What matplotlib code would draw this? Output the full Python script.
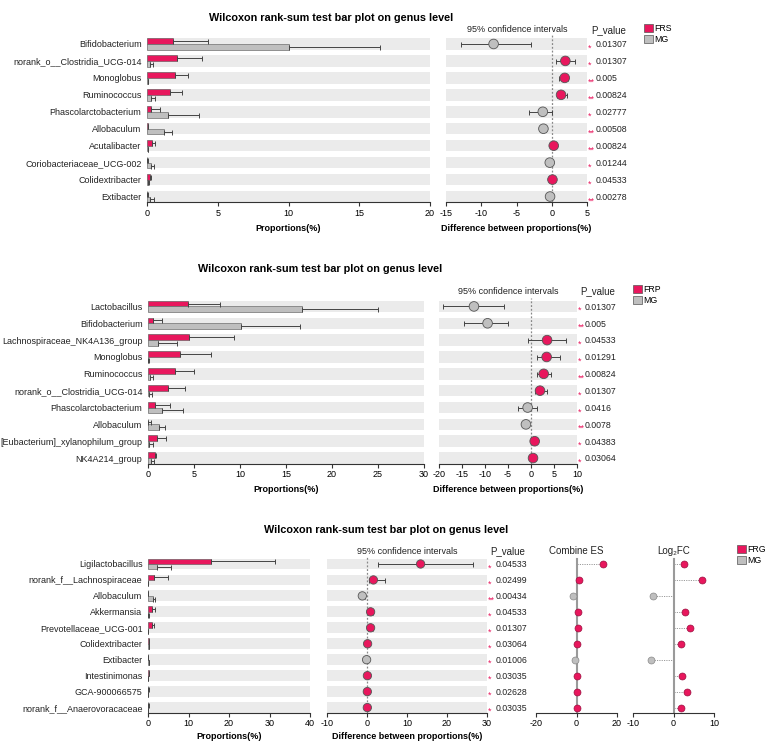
import matplotlib
matplotlib.use('Agg')
import matplotlib.pyplot as plt
from matplotlib.patches import Patch, Rectangle
import matplotlib.transforms as mtrans
import numpy as np

plt.rcParams['font.family'] = ['Liberation Sans', 'DejaVu Sans']

W, H = 767, 745
RED = '#E8175D'
GRAY = '#BFBFBF'
BAND = '#EBEBEB'
TITLE = 'Wilcoxon rank-sum test bar plot on genus level'

# ---------------- Panel 1: FRS vs MG ----------------
p1_cats = ['Bifidobacterium', 'norank_o__Clostridia_UCG-014', 'Monoglobus', 'Ruminococcus',
           'Phascolarctobacterium', 'Allobaculum', 'Acutalibacter', 'Coriobacteriaceae_UCG-002',
           'Colidextribacter', 'Extibacter']
p1_g1_mean = [1.85, 2.15, 1.95, 1.6, 0.3, 0.05, 0.35, 0.03, 0.2, 0.02]
p1_g1_sd = [2.45, 1.75, 0.95, 0.9, 0.6, 0.05, 0.2, 0.03, 0.1, 0.02]
p1_g2_mean = [10.0, 0.2, 0.05, 0.25, 1.5, 1.2, 0.05, 0.3, 0.1, 0.2]
p1_g2_sd = [6.5, 0.25, 0.05, 0.35, 2.2, 0.6, 0.05, 0.2, 0.05, 0.3]
p1_diff = [-8.25, 1.93, 1.84, 1.32, -1.27, -1.18, 0.28, -0.28, 0.1, -0.24]
p1_low = [-12.9, 0.66, 1.04, 0.75, -3.2, -1.5, 0.15, -0.45, 0.0, -0.5]
p1_high = [-2.9, 3.3, 2.36, 2.1, 0.1, -0.8, 0.45, -0.1, 0.2, 0.0]
p1_p = ['0.01307', '0.01307', '0.005', '0.00824', '0.02777', '0.00508', '0.00824', '0.01244', '0.04533', '0.00278']
p1_star = ['*', '*', '**', '**', '*', '**', '**', '*', '*', '**']
p1_groups = ['FRS', 'MG']
p1_bar_ticks = [0, 5, 10, 15, 20]
p1_diff_ticks = [-15, -10, -5, 0, 5]

# ---------------- Panel 2: FRP vs MG ----------------
p2_cats = ['Lactobacillus', 'Bifidobacterium', 'Lachnospiraceae_NK4A136_group', 'Monoglobus',
           'Ruminococcus', 'norank_o__Clostridia_UCG-014', 'Phascolarctobacterium', 'Allobaculum',
           '[Eubacterium]_xylanophilum_group', 'NK4A214_group']
p2_g1_mean = [4.4, 0.55, 4.5, 3.45, 2.97, 2.17, 0.72, 0.05, 0.98, 0.72]
p2_g1_sd = [3.4, 0.95, 4.9, 3.45, 2.03, 1.83, 1.68, 0.25, 0.97, 0.18]
p2_g2_mean = [16.7, 10.06, 1.05, 0.05, 0.25, 0.15, 1.52, 1.16, 0.1, 0.35]
p2_g2_sd = [8.3, 6.44, 2.15, 0.05, 0.3, 0.25, 2.24, 0.69, 0.4, 0.25]
p2_diff = [-12.4, -9.44, 3.5, 3.4, 2.76, 1.96, -0.73, -1.1, 0.8, 0.44]
p2_low = [-19.2, -14.6, -0.7, 1.2, 1.3, 0.8, -2.9, -1.6, 0.3, 0.2]
p2_high = [-5.8, -5.0, 7.7, 6.3, 4.4, 3.4, 1.3, -0.6, 1.3, 0.7]
p2_p = ['0.01307', '0.005', '0.04533', '0.01291', '0.00824', '0.01307', '0.0416', '0.0078', '0.04383', '0.03064']
p2_star = ['*', '**', '*', '*', '**', '*', '*', '**', '*', '*']
p2_groups = ['FRP', 'MG']
p2_bar_ticks = [0, 5, 10, 15, 20, 25, 30]
p2_diff_ticks = [-20, -15, -10, -5, 0, 5, 10]

# ---------------- Panel 3: FRG vs MG ----------------
p3_cats = ['Ligilactobacillus', 'norank_f__Lachnospiraceae', 'Allobaculum', 'Akkermansia',
           'Prevotellaceae_UCG-001', 'Colidextribacter', 'Extibacter', 'Intestinimonas',
           'GCA-900066575', 'norank_f__Anaerovoracaceae']
p3_g1_mean = [15.6, 1.6, 0.05, 1.0, 0.9, 0.25, 0.05, 0.15, 0.1, 0.1]
p3_g1_sd = [15.7, 3.3, 0.05, 0.8, 0.7, 0.1, 0.05, 0.05, 0.05, 0.05]
p3_g2_mean = [2.2, 0.05, 1.15, 0.1, 0.05, 0.15, 0.2, 0.05, 0.02, 0.02]
p3_g2_sd = [3.5, 0.05, 0.65, 0.05, 0.05, 0.05, 0.15, 0.05, 0.02, 0.02]
p3_diff = [13.4, 1.6, -1.17, 0.9, 0.9, 0.15, -0.1, 0.1, 0.08, 0.08]
p3_low = [2.75, 0.4, -1.7, 0.3, 0.3, 0.05, -0.25, 0.05, 0.03, 0.03]
p3_high = [26.5, 4.4, -0.6, 1.5, 1.5, 0.25, 0.05, 0.15, 0.13, 0.13]
p3_p = ['0.04533', '0.02499', '0.00434', '0.04533', '0.01307', '0.03064', '0.01006', '0.03035', '0.02628', '0.03035']
p3_star = ['*', '*', '**', '*', '*', '*', '*', '*', '*', '*']
p3_groups = ['FRG', 'MG']
p3_bar_ticks = [0, 10, 20, 30, 40]
p3_diff_ticks = [-10, 0, 10, 20, 30]
p3_es = [13.1, 1.4, -1.5, 0.6, 0.7, 0.0, -0.5, 0.0, 0.0, 0.0]
p3_log2fc = [2.7, 7.0, -5.0, 2.75, 4.15, 1.8, -5.5, 2.2, 3.25, 1.9]
p3_es_ticks = [-20, 0, 20]
p3_fc_ticks = [-10, 0, 10]

fig = plt.figure(figsize=(W / 100, H / 100), dpi=100)


def rect(x0, y0, x1, y1):
    return [x0 / W, 1 - y1 / H, (x1 - x0) / W, (y1 - y0) / H]


def fx(x):
    return x / W


def fy(y):
    return 1 - y / H


BH = 0.68  # band height in row units


def style_axis(ax, ticks, fs=6.5):
    for s in ['top', 'right', 'left']:
        ax.spines[s].set_visible(False)
    ax.spines['bottom'].set_color('#333333')
    ax.spines['bottom'].set_linewidth(0.8)
    ax.spines['bottom'].set_bounds(ticks[0], ticks[-1])
    ax.set_xticks(ticks)
    ax.set_xticklabels([str(t) for t in ticks])
    ax.tick_params(axis='x', length=3, width=0.8, color='#333333', labelsize=fs, pad=1.5)
    ax.tick_params(axis='y', length=0)
    ax.set_facecolor('none')


def panel(cats, g1m, g1s, g2m, g2s, diff, low, high, pvals, stars, groups,
          bar_ticks, diff_ticks, top, bot, bx0, bx1, dx0, dx1, star_x, pv_x,
          title_xy, ci_xy, ph_xy, leg_xy, circ, labfs=6.5, lpad=5):
    n = len(cats)
    ylim = (n - 1 + BH / 2, -0.5)
    pos = np.arange(n)
    # bar axes
    axb = fig.add_axes(rect(bx0, top, bx1, bot))
    xmax = bar_ticks[-1]
    axb.set_xlim(0, xmax)
    axb.set_ylim(*ylim)
    for i in pos:
        axb.add_patch(Rectangle((0, i - BH / 2), xmax, BH, color=BAND, lw=0, zorder=0))
    axb.barh(pos - BH / 4, g1m, height=BH / 2, color=RED, edgecolor='#555555', lw=0.4, zorder=2)
    axb.barh(pos + BH / 4, g2m, height=BH / 2, color=GRAY, edgecolor='#555555', lw=0.4, zorder=2)
    axb.errorbar(g1m, pos - BH / 4, xerr=[np.zeros(n), g1s], fmt='none', ecolor='#444444',
                 elinewidth=0.7, capsize=1.8, capthick=0.7, zorder=3)
    axb.errorbar(g2m, pos + BH / 4, xerr=[np.zeros(n), g2s], fmt='none', ecolor='#444444',
                 elinewidth=0.7, capsize=1.8, capthick=0.7, zorder=3)
    style_axis(axb, bar_ticks)
    axb.set_yticks(pos)
    axb.set_yticklabels(cats, fontsize=labfs, color='#222222')
    axb.tick_params(axis='y', pad=4)
    axb.set_xlabel('Proportions(%)', fontsize=6.5, fontweight='bold', labelpad=lpad)

    # diff axes
    axd = fig.add_axes(rect(dx0, top, dx1, bot))
    axd.set_xlim(diff_ticks[0], diff_ticks[-1])
    axd.set_ylim(*ylim)
    for i in pos:
        axd.add_patch(Rectangle((diff_ticks[0], i - BH / 2), diff_ticks[-1] - diff_ticks[0], BH,
                                color=BAND, lw=0, zorder=0))
    axd.axvline(0, color='#888888', ls=(0, (1.5, 1.5)), lw=0.9, zorder=1)
    d = np.array(diff)
    axd.errorbar(d, pos, xerr=[d - np.array(low), np.array(high) - d], fmt='none',
                 ecolor='#444444', elinewidth=0.7, capsize=1.8, capthick=0.7, zorder=2)
    cols = [RED if v > 0 else GRAY for v in diff]
    axd.scatter(d, pos, s=circ, c=cols, edgecolors='#555555', linewidths=0.6, zorder=3)
    style_axis(axd, diff_ticks)
    axd.set_yticks([])
    axd.set_xlabel('Difference between proportions(%)', fontsize=6.5, fontweight='bold',
                   labelpad=lpad)

    tr = mtrans.blended_transform_factory(fig.transFigure, axd.transData)
    for i in pos:
        axd.text(fx(star_x), i + 0.25, stars[i], transform=tr, color='#E8175D', fontsize=6.5,
                 ha='left', va='center', clip_on=False)
        axd.text(fx(pv_x), i + 0.05, pvals[i], transform=tr, color='#222222', fontsize=6.3,
                 ha='left', va='center', clip_on=False)

    fig.text(fx(title_xy[0]), fy(title_xy[1]), TITLE, ha='center', va='center',
             fontsize=7.8, fontweight='bold')
    fig.text(fx(ci_xy[0]), fy(ci_xy[1]), '95% confidence intervals', ha='center', va='center',
             fontsize=6.5, color='#222222')
    fig.text(fx(ph_xy[0]), fy(ph_xy[1]), 'P_value', ha='center', va='center',
             fontsize=7, color='#222222')
    handles = [Patch(facecolor=RED, edgecolor='#555555', lw=0.5, label=groups[0]),
               Patch(facecolor=GRAY, edgecolor='#555555', lw=0.5, label=groups[1])]
    fig.legend(handles=handles, loc='upper left', bbox_to_anchor=(fx(leg_xy[0]), fy(leg_xy[1])),
               frameon=False, fontsize=6.3, handlelength=1.0, handleheight=1.0,
               handletextpad=0.2, labelspacing=0.25, borderpad=0, borderaxespad=0)
    return axb, axd, ylim, pos


# Panel 1
panel(p1_cats, p1_g1_mean, p1_g1_sd, p1_g2_mean, p1_g2_sd, p1_diff, p1_low, p1_high, p1_p, p1_star,
      p1_groups, p1_bar_ticks, p1_diff_ticks, top=35.5, bot=202.3, bx0=147, bx1=430, dx0=446, dx1=587,
      star_x=588, pv_x=596, title_xy=(331, 18), ci_xy=(517, 30), ph_xy=(609, 30), leg_xy=(644, 24),
      circ=48, lpad=5)

# Panel 2
panel(p2_cats, p2_g1_mean, p2_g1_sd, p2_g2_mean, p2_g2_sd, p2_diff, p2_low, p2_high, p2_p, p2_star,
      p2_groups, p2_bar_ticks, p2_diff_ticks, top=298, bot=463.8, bx0=148, bx1=424, dx0=439, dx1=577,
      star_x=577.5, pv_x=585, title_xy=(320, 269), ci_xy=(508, 291), ph_xy=(598, 291),
      leg_xy=(633, 285), circ=48, lpad=4)

# Panel 3
axb3, axd3, ylim3, pos3 = panel(
    p3_cats, p3_g1_mean, p3_g1_sd, p3_g2_mean, p3_g2_sd, p3_diff, p3_low, p3_high, p3_p, p3_star,
    p3_groups, p3_bar_ticks, p3_diff_ticks, top=556, bot=713, bx0=148, bx1=310, dx0=327, dx1=487,
    star_x=488, pv_x=496, title_xy=(386, 530), ci_xy=(407, 551), ph_xy=(508, 551),
    leg_xy=(737, 545), circ=36, lpad=2.5)


def lollipop(x0, x1, vals, ticks, title, diffs):
    ax = fig.add_axes(rect(x0, 556, x1, 713))
    ax.set_xlim(ticks[0], ticks[-1])
    ax.set_ylim(*ylim3)
    ax.plot([0, 0], [-BH / 2, ylim3[0]], color='#9A9A9A', lw=1.5, zorder=1)
    for i, v in enumerate(vals):
        c = RED if diffs[i] > 0 else GRAY
        ax.plot([0, v], [i, i], color='#9A9A9A', ls=(0, (1.2, 1.2)), lw=0.7, zorder=1)
        ax.plot([v], [i], marker='o', ms=5, color=c, mec='#9A1040' if c == RED else '#888888',
                mew=0.5, zorder=3)
    style_axis(ax, ticks)
    ax.set_yticks([])
    fig.text(fx((x0 + x1) / 2), fy(551), title, ha='center', va='center', fontsize=7,
             color='#222222')
    return ax


lollipop(536, 617, p3_es, p3_es_ticks, 'Combine ES', p3_diff)
lollipop(633, 714, p3_log2fc, p3_fc_ticks, 'Log₂FC', p3_diff)

fig.savefig('out.png', dpi=100)
